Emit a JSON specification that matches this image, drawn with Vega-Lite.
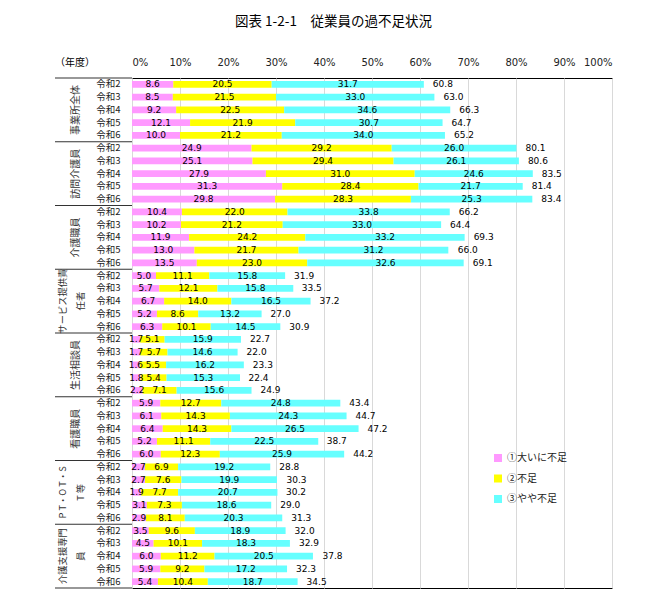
{
  "$schema": "https://vega.github.io/schema/vega-lite/v6.json",
  "padding": {"left": 54, "top": 15, "right": 5, "bottom": 5},
  "background": "#ffffff",
  "title": {
    "text": "図表 1-2-1　従業員の過不足状況",
    "font": "Noto Sans CJK JP",
    "fontSize": 13.5,
    "fontWeight": "normal",
    "color": "#000000",
    "anchor": "middle",
    "offset": 28
  },
  "config": {
    "font": "Noto Sans CJK JP",
    "view": {"stroke": null}
  },
  "bounds": "flush",
  "spacing": 0,
  "hconcat": [
    {
      "width": 77,
      "height": 510,
      "title": {
        "text": "（年度）",
        "anchor": "start",
        "frame": "group",
        "fontSize": 10,
        "fontWeight": "normal",
        "color": "#000000",
        "offset": 9
      },
      "data": {
        "values": [
          {"group": "事業所全体", "label": "事業所全体"},
          {"group": "訪問介護員", "label": "訪問介護員"},
          {"group": "介護職員", "label": "介護職員"},
          {"group": "サービス提供責任者", "label": "サービス提供責\n任者"},
          {"group": "生活相談員", "label": "生活相談員"},
          {"group": "看護職員", "label": "看護職員"},
          {"group": "PT・OT・ST等", "label": "P T・O T・S\nT 等"},
          {"group": "介護支援専門員", "label": "介護支援専門\n員"}
        ]
      },
      "layer": [
        {
          "mark": {"type": "rule", "stroke": "#333333", "strokeWidth": 1.2},
          "encoding": {
            "y": {"field": "group", "type": "nominal", "sort": null, "bandPosition": 1,
                  "scale": {"paddingInner": 0, "paddingOuter": 0}, "axis": null}
          }
        },
        {
          "transform": [{"filter": "datum.group === '事業所全体'"}],
          "mark": {"type": "rule", "stroke": "#333333", "strokeWidth": 1.2},
          "encoding": {
            "y": {"field": "group", "type": "nominal", "sort": null, "bandPosition": 0, "axis": null}
          }
        },
        {
          "transform": [{"filter": "split(datum.label, '\\n').length === 1"}],
          "mark": {
            "type": "text",
            "angle": 270,
            "fontSize": 10,
            "align": "center",
            "baseline": "middle",
            "dy": -18,
            "color": "#333333"
          },
          "encoding": {
            "y": {"field": "group", "type": "nominal", "sort": null, "axis": null},
            "text": {"field": "label", "type": "nominal"}
          }
        },
        {
          "transform": [{"filter": "split(datum.label, '\\n').length > 1"}],
          "mark": {
            "type": "text",
            "angle": 270,
            "lineBreak": "\n",
            "lineHeight": 18,
            "fontSize": 9.3,
            "align": "center",
            "baseline": "middle",
            "dy": -31,
            "color": "#333333"
          },
          "encoding": {
            "y": {"field": "group", "type": "nominal", "sort": null, "axis": null},
            "text": {"field": "label", "type": "nominal"}
          }
        }
      ]
    },
    {
      "width": 480,
      "height": 510,
      "view": {"stroke": "#000000", "strokeWidth": 1},
      "data": {
        "values": [
          {"row": "事業所全体|令和2", "dai": 8.6, "fusoku": 20.5, "yaya": 31.7, "total": 60.8},
          {"row": "事業所全体|令和3", "dai": 8.5, "fusoku": 21.5, "yaya": 33.0, "total": 63.0},
          {"row": "事業所全体|令和4", "dai": 9.2, "fusoku": 22.5, "yaya": 34.6, "total": 66.3},
          {"row": "事業所全体|令和5", "dai": 12.1, "fusoku": 21.9, "yaya": 30.7, "total": 64.7},
          {"row": "事業所全体|令和6", "dai": 10.0, "fusoku": 21.2, "yaya": 34.0, "total": 65.2},
          {"row": "訪問介護員|令和2", "dai": 24.9, "fusoku": 29.2, "yaya": 26.0, "total": 80.1},
          {"row": "訪問介護員|令和3", "dai": 25.1, "fusoku": 29.4, "yaya": 26.1, "total": 80.6},
          {"row": "訪問介護員|令和4", "dai": 27.9, "fusoku": 31.0, "yaya": 24.6, "total": 83.5},
          {"row": "訪問介護員|令和5", "dai": 31.3, "fusoku": 28.4, "yaya": 21.7, "total": 81.4},
          {"row": "訪問介護員|令和6", "dai": 29.8, "fusoku": 28.3, "yaya": 25.3, "total": 83.4},
          {"row": "介護職員|令和2", "dai": 10.4, "fusoku": 22.0, "yaya": 33.8, "total": 66.2},
          {"row": "介護職員|令和3", "dai": 10.2, "fusoku": 21.2, "yaya": 33.0, "total": 64.4},
          {"row": "介護職員|令和4", "dai": 11.9, "fusoku": 24.2, "yaya": 33.2, "total": 69.3},
          {"row": "介護職員|令和5", "dai": 13.0, "fusoku": 21.7, "yaya": 31.2, "total": 66.0},
          {"row": "介護職員|令和6", "dai": 13.5, "fusoku": 23.0, "yaya": 32.6, "total": 69.1},
          {"row": "サービス提供責任者|令和2", "dai": 5.0, "fusoku": 11.1, "yaya": 15.8, "total": 31.9},
          {"row": "サービス提供責任者|令和3", "dai": 5.7, "fusoku": 12.1, "yaya": 15.8, "total": 33.5},
          {"row": "サービス提供責任者|令和4", "dai": 6.7, "fusoku": 14.0, "yaya": 16.5, "total": 37.2},
          {"row": "サービス提供責任者|令和5", "dai": 5.2, "fusoku": 8.6, "yaya": 13.2, "total": 27.0},
          {"row": "サービス提供責任者|令和6", "dai": 6.3, "fusoku": 10.1, "yaya": 14.5, "total": 30.9},
          {"row": "生活相談員|令和2", "dai": 1.7, "fusoku": 5.1, "yaya": 15.9, "total": 22.7},
          {"row": "生活相談員|令和3", "dai": 1.7, "fusoku": 5.7, "yaya": 14.6, "total": 22.0},
          {"row": "生活相談員|令和4", "dai": 1.6, "fusoku": 5.5, "yaya": 16.2, "total": 23.3},
          {"row": "生活相談員|令和5", "dai": 1.8, "fusoku": 5.4, "yaya": 15.3, "total": 22.4},
          {"row": "生活相談員|令和6", "dai": 2.2, "fusoku": 7.1, "yaya": 15.6, "total": 24.9},
          {"row": "看護職員|令和2", "dai": 5.9, "fusoku": 12.7, "yaya": 24.8, "total": 43.4},
          {"row": "看護職員|令和3", "dai": 6.1, "fusoku": 14.3, "yaya": 24.3, "total": 44.7},
          {"row": "看護職員|令和4", "dai": 6.4, "fusoku": 14.3, "yaya": 26.5, "total": 47.2},
          {"row": "看護職員|令和5", "dai": 5.2, "fusoku": 11.1, "yaya": 22.5, "total": 38.7},
          {"row": "看護職員|令和6", "dai": 6.0, "fusoku": 12.3, "yaya": 25.9, "total": 44.2},
          {"row": "PT・OT・ST等|令和2", "dai": 2.7, "fusoku": 6.9, "yaya": 19.2, "total": 28.8},
          {"row": "PT・OT・ST等|令和3", "dai": 2.7, "fusoku": 7.6, "yaya": 19.9, "total": 30.3},
          {"row": "PT・OT・ST等|令和4", "dai": 1.9, "fusoku": 7.7, "yaya": 20.7, "total": 30.2},
          {"row": "PT・OT・ST等|令和5", "dai": 3.1, "fusoku": 7.3, "yaya": 18.6, "total": 29.0},
          {"row": "PT・OT・ST等|令和6", "dai": 2.9, "fusoku": 8.1, "yaya": 20.3, "total": 31.3},
          {"row": "介護支援専門員|令和2", "dai": 3.5, "fusoku": 9.6, "yaya": 18.9, "total": 32.0},
          {"row": "介護支援専門員|令和3", "dai": 4.5, "fusoku": 10.1, "yaya": 18.3, "total": 32.9},
          {"row": "介護支援専門員|令和4", "dai": 6.0, "fusoku": 11.2, "yaya": 20.5, "total": 37.8},
          {"row": "介護支援専門員|令和5", "dai": 5.9, "fusoku": 9.2, "yaya": 17.2, "total": 32.3},
          {"row": "介護支援専門員|令和6", "dai": 5.4, "fusoku": 10.4, "yaya": 18.7, "total": 34.5}
        ]
      },
      "encoding": {
        "y": {
          "field": "row",
          "type": "nominal",
          "sort": null,
          "scale": {"paddingInner": 0.48, "paddingOuter": 0.24},
          "axis": {
            "orient": "left",
            "title": null,
            "labelExpr": "split(datum.label, '|')[1]",
            "ticks": false,
            "tickSize": 0,
            "domain": false,
            "labelPadding": 12,
            "labelFont": "Noto Sans CJK JP",
            "labelFontSize": 9.5,
            "labelColor": "#222222"
          }
        }
      },
      "layer": [
        {
          "transform": [{"fold": ["dai", "fusoku", "yaya"], "as": ["kubun", "pct"]}],
          "mark": {"type": "bar"},
          "encoding": {
            "x": {
              "field": "pct",
              "type": "quantitative",
              "stack": "zero",
              "scale": {"domain": [0, 100], "nice": false},
              "axis": {
                "orient": "top",
                "title": null,
                "values": [0, 10, 20, 30, 40, 50, 60, 70, 80, 90, 100],
                "labelExpr": "datum.value + '%'",
                "grid": true,
                "gridColor": "#d9d9d9",
                "gridWidth": 1,
                "ticks": false,
                "tickSize": 0,
                "domain": false,
                "labelPadding": 11,
                "labelFont": "DejaVu Sans",
                "labelFontSize": 10,
                "labelColor": "#222222"
              }
            },
            "order": {"field": "kubun"},
            "color": {
              "field": "kubun",
              "type": "nominal",
              "scale": {"domain": ["dai", "fusoku", "yaya"], "range": ["#FF99FF", "#FFFF00", "#66FFFF"]},
              "legend": {
                "orient": "none",
                "legendX": 438,
                "legendY": 375,
                "title": null,
                "symbolType": "square",
                "symbolSize": 64,
                "symbolStrokeWidth": 0,
                "symbolOpacity": 1,
                "labelFont": "Noto Sans CJK JP",
                "labelFontSize": 10,
                "labelColor": "#222222",
                "labelOffset": 4,
                "rowPadding": 10.5,
                "labelExpr": "datum.value === 'dai' ? '①大いに不足' : datum.value === 'fusoku' ? '②不足' : '③やや不足'"
              }
            }
          }
        },
        {
          "transform": [{"fold": ["dai", "fusoku", "yaya"], "as": ["kubun", "pct"]}],
          "mark": {"type": "text", "font": "DejaVu Sans", "fontSize": 9, "color": "#000000", "baseline": "middle"},
          "encoding": {
            "x": {"field": "pct", "type": "quantitative", "stack": "zero", "bandPosition": 0.5},
            "order": {"field": "kubun"},
            "detail": {"field": "kubun", "type": "nominal"},
            "text": {"field": "pct", "type": "quantitative", "format": ".1f"}
          }
        },
        {
          "mark": {"type": "text", "font": "DejaVu Sans", "fontSize": 9, "color": "#000000", "align": "left", "baseline": "middle", "dx": 9},
          "encoding": {
            "x": {"field": "total", "type": "quantitative"},
            "text": {"field": "total", "type": "quantitative", "format": ".1f"}
          }
        }
      ]
    }
  ]
}
